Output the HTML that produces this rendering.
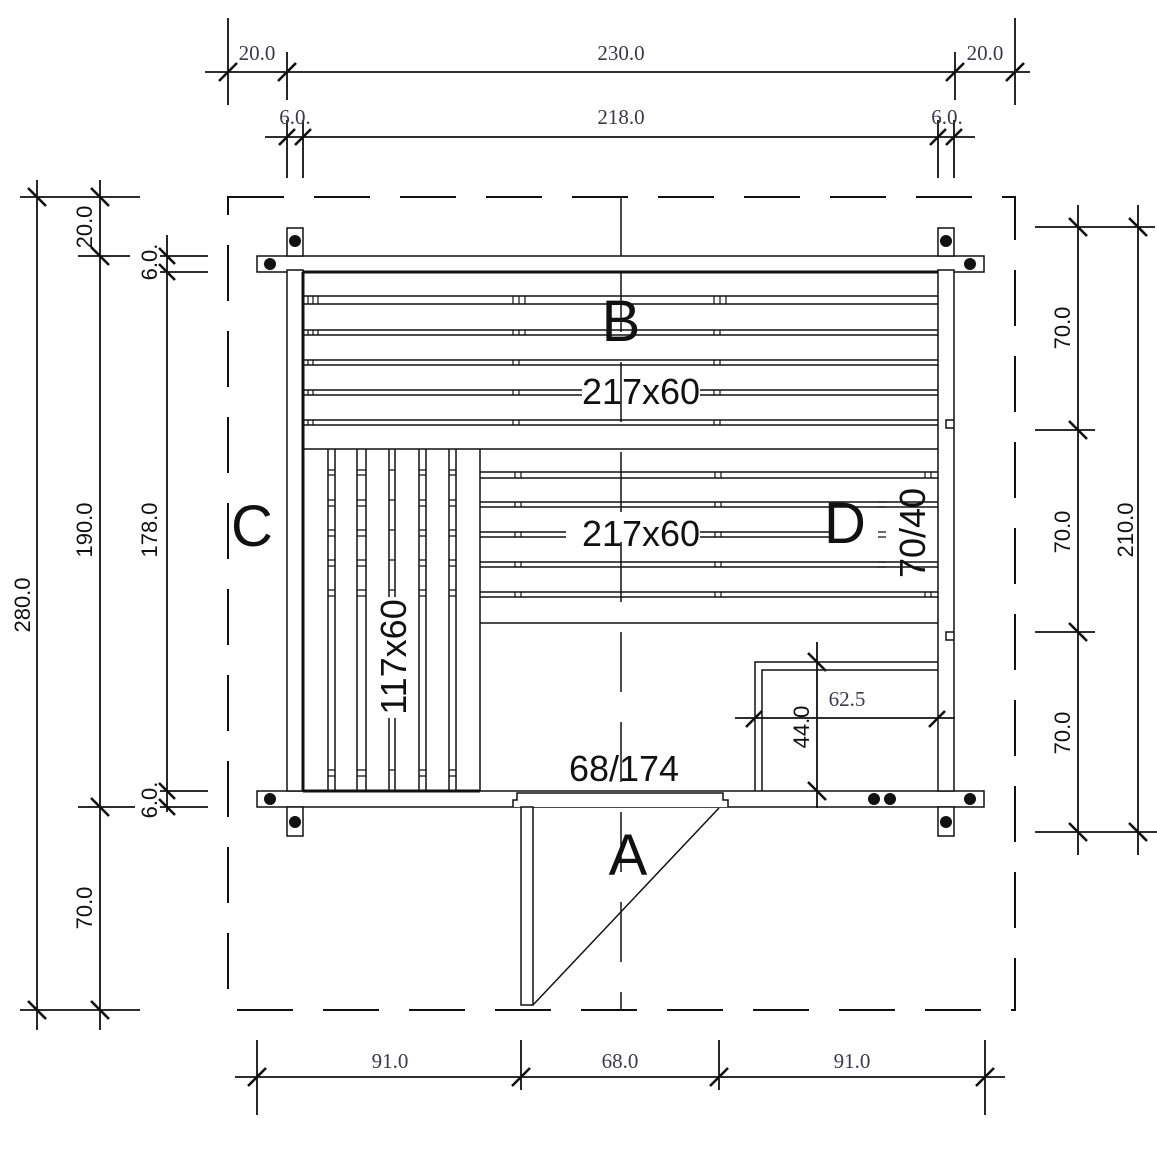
<!DOCTYPE html>
<html><head><meta charset="utf-8"><style>
html,body{margin:0;padding:0;background:#fff;width:1157px;height:1157px;overflow:hidden}
svg{display:block}
.d{font-family:"Liberation Serif",serif;font-size:21px;fill:#3a3a4a}
.l{font-family:"Liberation Sans",sans-serif;fill:#111}
</style></head><body>
<svg width="1157" height="1157" viewBox="0 0 1157 1157" xmlns="http://www.w3.org/2000/svg">
<g stroke="#111" stroke-width="1.5" fill="none">
<!-- dashed outline -->
<rect x="228" y="197" width="787" height="813" stroke-dasharray="56,30" stroke-width="2"/>
<!-- center line -->
<line x1="621" y1="197" x2="621" y2="256"/>
<line x1="621" y1="272" x2="621" y2="1010" stroke-dasharray="60,30"/>
<!-- walls -->
<rect x="257" y="256" width="727" height="16" fill="#fff"/>
<line x1="303" y1="272" x2="938" y2="272" stroke-width="3"/>
<rect x="257" y="791" width="727" height="16" fill="#fff"/>
<line x1="303" y1="791" x2="480" y2="791" stroke-width="3"/>
<rect x="287" y="270" width="16" height="521" fill="#fff"/>
<line x1="303" y1="272" x2="303" y2="791" stroke-width="3"/>
<rect x="938" y="270" width="16" height="521" fill="#fff"/>
<path d="M954 420h-8v8h8M954 632h-8v8h8"/>
<!-- corner posts -->
<rect x="287" y="228" width="16" height="28" fill="#fff"/>
<rect x="938" y="228" width="16" height="28" fill="#fff"/>
<rect x="287" y="807" width="16" height="29" fill="#fff"/>
<rect x="938" y="807" width="16" height="29" fill="#fff"/>
<!-- bench B slats -->
<path d="M303 296H938M303 304H938M303 330H938M303 335H938M303 360H938M303 365H938M303 390H582M700 390H938M303 395H582M700 395H938M303 420H938M303 425H938M303 449H938"/>
<!-- bench D slats -->
<path d="M480 472H938M480 478H938M480 502H938M480 507H938M480 532H566M700 532H830M480 537H566M700 537H830M480 562H938M480 567H938M480 592H938M480 597H938M480 623H938M480 449V791"/>
<!-- ticks on slats -->
<g stroke-width="1.2">
<path d="M308 296v8M313 296v8M318 296v8M308 330v5M313 330v5M318 330v5M308 360v5M313 360v5M308 390v5M313 390v5M308 420v5M313 420v5"/>
<path d="M513 296v8M519 296v8M525 296v8M513 330v5M519 330v5M525 330v5M513 360v5M519 360v5M513 390v5M519 390v5M513 420v5M519 420v5"/>
<path d="M714 296v8M720 296v8M726 296v8M714 330v5M720 330v5M714 360v5M720 360v5M714 390v5M720 390v5M714 420v5M720 420v5"/>
<path d="M515 472v6M521 472v6M515 502v5M521 502v5M515 532v5M521 532v5M515 562v5M521 562v5M515 592v5M521 592v5"/>
<path d="M715 472v6M721 472v6M715 502v5M721 502v5M715 532v5M721 532v5M715 562v5M721 562v5M715 592v5M721 592v5"/>
<path d="M925 472v6M931 472v6M925 592v5M931 592v5M878 502h8M878 507h8M878 532h8M878 537h8M878 562h8M878 567h8"/>
</g>
<!-- bench C slats -->
<path d="M328 449V791M335 449V791M357 449V791M366 449V791M389 449V597M395 449V597M389 718V791M395 718V791M419 449V791M426 449V791M449 449V791M456 449V791"/>
<g stroke-width="1.2">
<path d="M328 470h7M328 475h7M328 500h7M328 506h7M328 530h7M328 536h7M328 560h7M328 566h7M328 590h7M328 596h7M328 770h7M328 776h7"/>
<path d="M357 470h9M357 475h9M357 500h9M357 506h9M357 530h9M357 536h9M357 560h9M357 566h9M357 590h9M357 596h9M357 770h9M357 776h9"/>
<path d="M389 470h6M389 500h6M389 530h6M389 560h6M389 590h6M389 770h6"/>
<path d="M419 470h7M419 475h7M419 500h7M419 506h7M419 530h7M419 536h7M419 560h7M419 566h7M419 590h7M419 596h7M419 770h7M419 776h7"/>
<path d="M449 470h7M449 475h7M449 500h7M449 506h7M449 530h7M449 536h7M449 560h7M449 566h7M449 590h7M449 596h7M449 770h7M449 776h7"/>
</g>
<!-- stove -->
<path d="M755 791V662H938M762 791V670H938"/>
<!-- door -->
<path d="M513 807v-7h4v-7h206v7h5v7" fill="#fff"/>
<rect x="521" y="807" width="12" height="198" fill="#fff"/>
<line x1="533" y1="1005" x2="719" y2="808"/>
</g>
<!-- dots -->
<g fill="#111">
<circle cx="295" cy="241" r="6"/><circle cx="270" cy="264" r="6"/>
<circle cx="946" cy="241" r="6"/><circle cx="970" cy="264" r="6"/>
<circle cx="295" cy="822" r="6"/><circle cx="270" cy="799" r="6"/>
<circle cx="946" cy="822" r="6"/><circle cx="970" cy="799" r="6"/>
<circle cx="874" cy="799" r="6"/><circle cx="890" cy="799" r="6"/>
</g>
<!-- dimension lines -->
<g stroke="#111" stroke-width="1.8" fill="none">
<path d="M205 72H1030M228 18V105M287 52V100M955 52V100M1015 18V105"/>
<path d="M265 137H975M287 120V178M303 120V178M938 120V178M954 120V178"/>
<path d="M37 180V1030M100 180V1030M167 235V812M20 197H140M78 256H130M160 256H208M160 272H208M78 807H135M160 791H208M160 807H208M20 1010H140"/>
<path d="M1078 205V855M1138 205V855M1035 227H1155M1035 430H1095M1035 632H1095M1035 832H1157"/>
<path d="M235 1077H1005M257 1040V1115M521 1040V1090M719 1040V1090M985 1040V1115"/>
<path d="M817 642V808M735 718H955"/>
</g>
<g stroke="#111" stroke-width="2.6">
<!-- horizontal ticks / -->
<path d="M219 81l18-18M278 81l18-18M946 81l18-18M1006 81l18-18"/>
<path d="M279 145l16-16M295 145l16-16M930 145l16-16M946 145l16-16"/>
<path d="M248 1086l18-18M512 1086l18-18M710 1086l18-18M976 1086l18-18"/>
<path d="M746 727l16-16M929 727l16-16"/>
<!-- vertical ticks \ -->
<path d="M28 188l18 18M28 1001l18 18M91 188l18 18M91 247l18 18M91 798l18 18M91 1001l18 18"/>
<path d="M159 248l16 16M159 264l16 16M159 783l16 16M159 799l16 16"/>
<path d="M1069 218l18 18M1069 421l18 18M1069 623l18 18M1069 823l18 18M1129 218l18 18M1129 823l18 18"/>
<path d="M808 653l18 18M808 782l18 18"/>
</g>
<!-- dimension text -->
<g class="d">
<text x="257" y="60" text-anchor="middle">20.0</text>
<text x="621" y="60" text-anchor="middle">230.0</text>
<text x="985" y="60" text-anchor="middle">20.0</text>
<text x="295" y="124" text-anchor="middle">6.0.</text>
<text x="621" y="124" text-anchor="middle">218.0</text>
<text x="947" y="124" text-anchor="middle">6.0.</text>
<text x="390" y="1068" text-anchor="middle">91.0</text>
<text x="620" y="1068" text-anchor="middle">68.0</text>
<text x="852" y="1068" text-anchor="middle">91.0</text>
<text x="620" y="1132" text-anchor="middle">250.0</text>
<text x="847" y="706" text-anchor="middle">62.5</text>
</g>
<g class="l" font-size="22">
<text transform="translate(30,605) rotate(-90)" text-anchor="middle">280.0</text>
<text transform="translate(92,227) rotate(-90)" text-anchor="middle">20.0</text>
<text transform="translate(92,530) rotate(-90)" text-anchor="middle">190.0</text>
<text transform="translate(92,908) rotate(-90)" text-anchor="middle">70.0</text>
<text transform="translate(157,262) rotate(-90)" text-anchor="middle">6.0.</text>
<text transform="translate(157,530) rotate(-90)" text-anchor="middle">178.0</text>
<text transform="translate(157,800) rotate(-90)" text-anchor="middle">6.0.</text>
<text transform="translate(1070,328) rotate(-90)" text-anchor="middle">70.0</text>
<text transform="translate(1070,532) rotate(-90)" text-anchor="middle">70.0</text>
<text transform="translate(1070,733) rotate(-90)" text-anchor="middle">70.0</text>
<text transform="translate(1133,530) rotate(-90)" text-anchor="middle">210.0</text>
<text transform="translate(809,727) rotate(-90)" text-anchor="middle">44.0</text>
</g>
<rect x="0" y="1118" width="1157" height="39" fill="#fff"/>
<!-- labels -->
<g class="l">
<text x="621" y="341" font-size="58" text-anchor="middle">B</text>
<text x="641" y="404" font-size="36" text-anchor="middle">217x60</text>
<text x="641" y="546" font-size="36" text-anchor="middle">217x60</text>
<text x="845" y="543" font-size="58" text-anchor="middle">D</text>
<text transform="translate(925,533) rotate(-90)" font-size="36" text-anchor="middle">70/40</text>
<text x="252" y="546" font-size="58" text-anchor="middle">C</text>
<text transform="translate(406,657) rotate(-90)" font-size="36" text-anchor="middle">117x60</text>
<text x="624" y="781" font-size="36" text-anchor="middle">68/174</text>
<text x="628" y="875" font-size="58" text-anchor="middle">A</text>
</g>
</svg>
</body></html>
